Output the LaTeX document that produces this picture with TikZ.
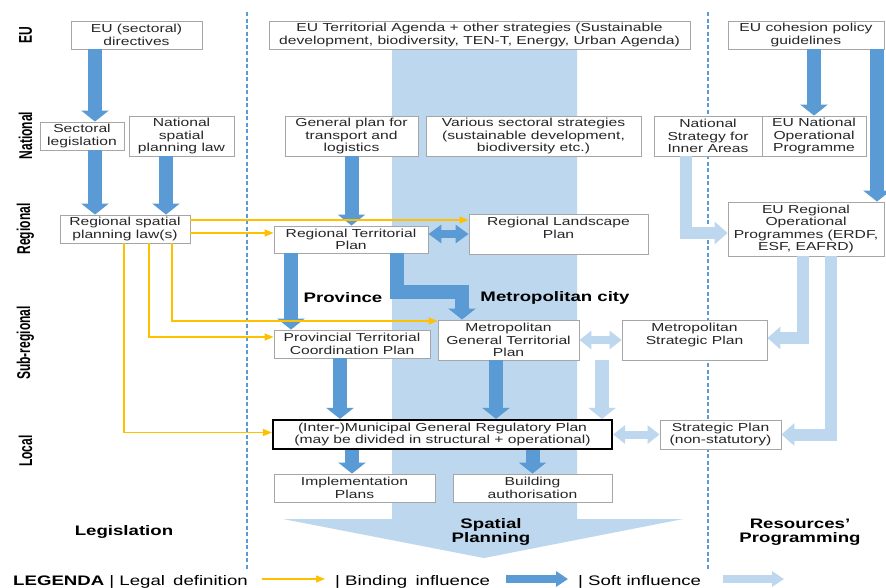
\documentclass[tikz,border=0pt]{standalone}
\usepackage{fontspec}
\setmainfont{Liberation Sans}[FakeStretch=1.35]
\newfontfamily\rotfam{Liberation Sans}[FakeStretch=0.65]
\usetikzlibrary{arrows.meta,calc}
\definecolor{dkblue}{HTML}{5B9BD5}
\definecolor{ltblue}{HTML}{BDD7EE}
\definecolor{yel}{HTML}{FFC000}
\definecolor{boxgray}{HTML}{A6A6A6}
\definecolor{txt}{HTML}{262626}
\newcommand\boxfont{\fontsize{11.6}{12.4}\selectfont}
\newcommand\labfont{\bfseries\fontsize{13.8}{14}\selectfont}
\newcommand\legfont{\fontsize{13.8}{14}\selectfont}
\newcommand\rotlab{\rotfam\bfseries\fontsize{18.5}{20}\selectfont}
\begin{document}
\begin{tikzpicture}[x=1pt,y=-1pt,
  box/.style={draw=boxgray, fill=white, line width=0.9pt, inner sep=0pt, align=center, font=\boxfont, text=txt},
  mainbox/.style={box, draw=black, line width=2.2pt},
  hard/.style={draw=dkblue, line width=14pt, line join=miter, -{Triangle[length=11pt,width=27pt]}},
  hardboth/.style={draw=dkblue, line width=8pt, {Triangle[length=13pt,width=18pt]}-{Triangle[length=13pt,width=18pt]}},
  soft/.style={draw=ltblue, line width=12pt, line join=miter, -{Triangle[length=13pt,width=22pt]}},
  softdown/.style={draw=ltblue, line width=14pt, -{Triangle[length=11pt,width=27pt]}},
  softboth/.style={draw=ltblue, line width=8pt, {Triangle[length=12pt,width=18pt]}-{Triangle[length=12pt,width=18pt]}},
  legal/.style={draw=yel, line width=1.4pt, -{Triangle[length=9pt,width=7pt]}},
  divider/.style={draw=dkblue, line width=2pt, dash pattern=on 4pt off 2.5pt},
  level/.style={rotate=90, font=\rotlab, text=black},
  lab/.style={font=\labfont, text=black, align=center},
  legh/.style={draw=dkblue, line width=8pt, -{Triangle[length=12pt,width=15pt]}},
  legs/.style={draw=ltblue, line width=8pt, -{Triangle[length=12pt,width=15pt]}}
]
\useasboundingbox (0,0) rectangle (886,587);
\fill[white] (0,0) rectangle (886,587);

% big spatial planning band + arrow
\fill[ltblue] (392,49) -- (577,49) -- (577,519) -- (683,519) -- (484,558) -- (283,519) -- (392,519) -- cycle;

% dividers
\coordinate (d1t) at (247,12); \coordinate (d1b) at (247,570);
\coordinate (d2t) at (708,12); \coordinate (d2b) at (708,570);
\draw[divider] (d1t) -- (d1b);
\draw[divider] (d2t) -- (d2b);

% level labels
\node[level] (lvEU) at (25.5,35.5) {EU};
\node[level] (lvNat) at (25.5,135.5) {National};
\node[level] (lvReg) at (25.5,229) {Regional};
\node[level] (lvSub) at (25.5,343) {Sub-regional};
\node[level] (lvLoc) at (25.5,451) {Local};

% boxes
\node[box, minimum width=131pt, minimum height=28pt] (eudir) at (136.5,35) {EU (sectoral)\\directives};
\node[box, minimum width=84pt, minimum height=28pt] (secleg) at (82,136) {Sectoral\\legislation};
\node[box, minimum width=105pt, minimum height=40pt] (natlaw) at (181.5,136) {National\\spatial\\planning law};
\node[box, minimum width=421pt, minimum height=28pt] (euta) at (479.5,35) {EU Territorial Agenda + other strategies (Sustainable\\development, biodiversity, TEN-T, Energy, Urban Agenda)};
\node[box, minimum width=133pt, minimum height=40pt] (genplan) at (351.5,136) {General plan for\\transport and\\logistics};
\node[box, minimum width=215pt, minimum height=40pt] (various) at (533.5,136) {Various sectoral strategies\\(sustainable development,\\biodiversity etc.)};
\node[box, minimum width=156pt, minimum height=28pt] (cohesion) at (806,35) {EU cohesion policy\\guidelines};
\node[box, minimum width=108pt, minimum height=40pt] (nsia) at (708,136) {National\\Strategy for\\Inner Areas};
\node[box, minimum width=104pt, minimum height=40pt] (eunop) at (814,136) {EU National\\Operational\\Programme};
\node[box, minimum width=156pt, minimum height=54pt] (euro) at (806,229) {EU Regional\\Operational\\Programmes (ERDF,\\ESF, EAFRD)};
\node[box, minimum width=130pt, minimum height=28pt] (rspl) at (125,229) {Regional spatial\\planning law(s)};
\node[box, minimum width=154pt, minimum height=27pt] (rtp) at (351,239.5) {Regional Territorial\\Plan};
\node[box, minimum width=179pt, minimum height=40pt] (rlp) at (558.5,234) {Regional Landscape\\Plan\\~};
\node[box, minimum width=156pt, minimum height=28pt] (ptcp) at (352,344) {Provincial Territorial\\Coordination Plan};
\node[box, minimum width=141pt, minimum height=40pt] (mgtp) at (508.5,340) {Metropolitan\\General Territorial\\Plan};
\node[box, minimum width=145pt, minimum height=40pt] (msp) at (694.5,340) {Metropolitan\\Strategic Plan\\~};
\node[mainbox, minimum width=339pt, minimum height=29pt] (imgrp) at (442.5,434.5) {(Inter-)Municipal General Regulatory Plan\\(may be divided in structural + operational)};
\node[box, minimum width=121pt, minimum height=29pt] (spns) at (720.5,434.5) {Strategic Plan\\(non-statutory)};
\node[box, minimum width=161pt, minimum height=28pt] (impl) at (354.5,488) {Implementation\\Plans};
\node[box, minimum width=159pt, minimum height=28pt] (build) at (532.5,488) {Building\\authorisation};

% bold labels
\node[lab] (lprov) at (343,298) {Province};
\node[lab] (lmetro) at (555,298) {Metropolitan city};
\node[lab] (llegis) at (124,532) {Legislation};
\node[lab] (lspat) at (491,532) {Spatial\\Planning};
\node[lab] (lres) at (800,532) {Resources’\\Programming};

% binding (hard) influence
\draw[hard] ([xshift=-41.5pt]eudir.south) -- ([xshift=-41.5pt]eudir.south |- secleg.north);
\draw[hard] ([xshift=13pt]secleg.south) -- ([xshift=13pt]secleg.south |- rspl.north);
\draw[hard] ([xshift=-15.5pt]natlaw.south) -- ([xshift=-15.5pt]natlaw.south |- rspl.north);
\draw[hard] (genplan.south) -- (genplan.south |- rtp.north);
\draw[hard] ([xshift=-60pt]rtp.south) -- ([xshift=-60pt]rtp.south |- ptcp.north);
\draw[hard] ([xshift=46pt]rtp.south) -- ++(0,39) -| ([xshift=-46.5pt]mgtp.north);
\draw[hardboth] ([yshift=5.5pt]rtp.east) -- ([yshift=5.5pt]rtp.east -| rlp.west);
\draw[hard] ([xshift=-12pt]ptcp.south) -- ([xshift=-12pt]ptcp.south |- imgrp.north);
\draw[hard] ([xshift=-12.5pt]mgtp.south) -- ([xshift=-12.5pt]mgtp.south |- imgrp.north);
\draw[hard] ([xshift=-2.5pt]impl.north |- imgrp.south) -- ([xshift=-2.5pt]impl.north);
\draw[hard] (build.north |- imgrp.south) -- (build.north);
\draw[hard] (eunop.north |- cohesion.south) -- (eunop.north);
\draw[hard] ([xshift=71pt]cohesion.south) -- ([xshift=71pt]cohesion.south |- euro.north);

% soft influence
\draw[soft] ([xshift=-22pt]nsia.south) |- ([yshift=-4pt]euro.west);
\draw[soft] ([xshift=-3pt]euro.south) |- ([yshift=2pt]msp.east);
\draw[soft] ([xshift=25pt]euro.south) |- (spns.east);
\draw[softboth] (mgtp.east) -- (msp.west);
\coordinate (softsrc) at (602,360);
\draw[softdown] (softsrc) -- (softsrc |- imgrp.north);
\draw[softboth] (imgrp.east) -- (spns.west);

% legal definition
\draw[legal] ([yshift=9pt]rspl.east) -- ([yshift=9pt]rspl.east -| rlp.west);
\draw[legal] ([yshift=-4pt]rspl.east) -- ([yshift=-4pt]rspl.east -| rtp.west);
\draw[legal] ([xshift=47pt]rspl.south) |- ([yshift=19pt]mgtp.west);
\draw[legal] ([xshift=24pt]rspl.south) |- ([yshift=7pt]ptcp.west);
\draw[legal] ([xshift=-1pt]rspl.south) |- ([yshift=2pt]imgrp.west);

% legend
\node[anchor=base west, font=\legfont, text=black, inner sep=0pt] (leg1) at (13,585) {\textbf{LEGENDA} | Legal\hspace{3pt} definition};
\coordinate (ly1) at (262,579); \coordinate (ly2) at (325,579);
\draw[legal] (ly1) -- (ly2);
\node[anchor=base west, font=\legfont, text=black, inner sep=0pt] (leg2) at (335,585) {| Binding\hspace{3pt} influence};
\coordinate (lh1) at (506,579); \coordinate (lh2) at (568,579);
\draw[legh] (lh1) -- (lh2);
\node[anchor=base west, font=\legfont, text=black, inner sep=0pt] (leg3) at (578,585) {| Soft influence};
\coordinate (ls1) at (723,579); \coordinate (ls2) at (784,579);
\draw[legs] (ls1) -- (ls2);
\end{tikzpicture}
\end{document}
